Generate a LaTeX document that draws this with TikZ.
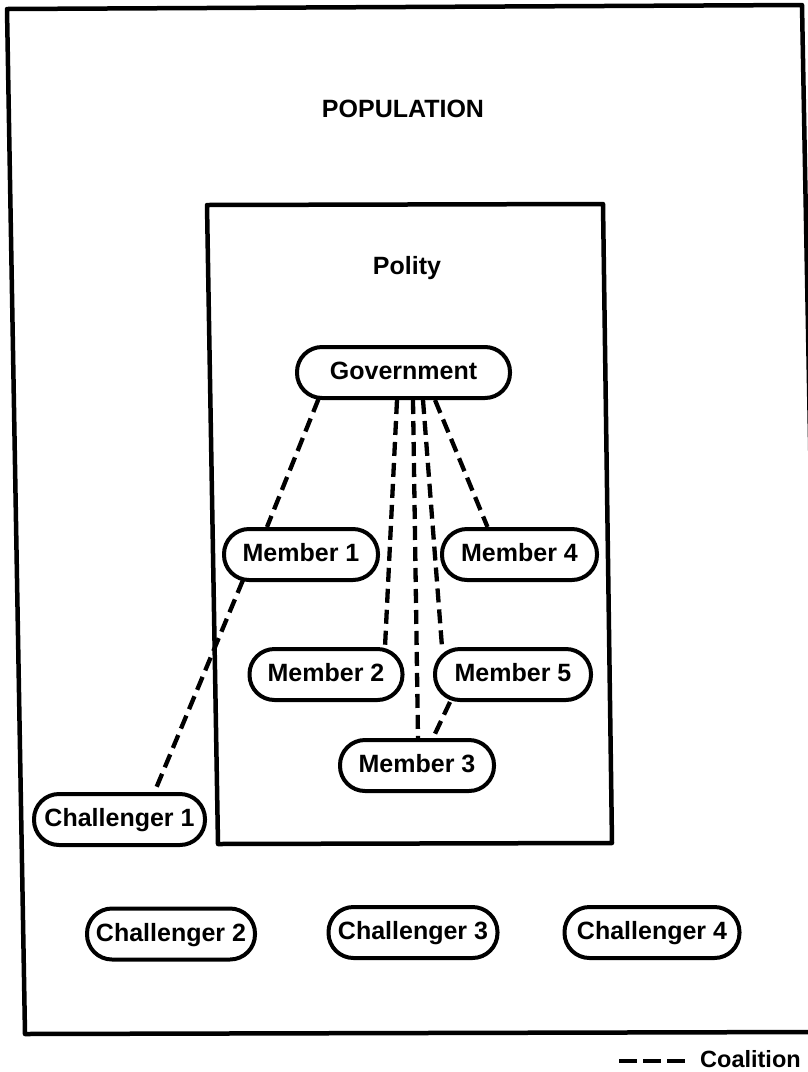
\documentclass[tikz,border=0pt]{standalone}
\usepackage{fontspec}
\setmainfont{Liberation Sans}
\usetikzlibrary{calc}
\begin{document}
\begin{tikzpicture}[x=1pt,y=-1pt,
  box/.style={draw, line width=4pt, rounded corners=25pt, minimum height=51pt,
    inner sep=0pt, text height=18pt, text depth=4pt,
    font=\fontsize{25}{28}\selectfont\bfseries, fill=white},
  lbl/.style={inner sep=0pt, font=\fontsize{25}{28}\selectfont\bfseries},
  coal/.style={line width=4.3pt, dash pattern=on 14pt off 7pt},
  frame/.style={line width=4.5pt, line join=round}]
\useasboundingbox (0,0) rectangle (807,1072);

% frames (slightly skewed like the scan)
\draw[frame] (7,9) -- (802,5) -- (821,1032) -- (25,1034) -- cycle;
\draw[frame] (207,205) -- (603,204) -- (612,843) -- (218,844) -- cycle;

% titles
\node[lbl, anchor=base] (pop) at (403,117) {POPULATION};
\node[lbl, anchor=base] (pol) at (407,274) {Polity};

% nodes
\node[box, minimum width=213pt] (gov) at (403.5,372.5) {Government};
\node[box, minimum width=154pt] (m1) at (301,554.5) {Member 1};
\node[box, minimum width=155pt] (m4) at (519.5,554.5) {Member 4};
\node[box, minimum width=153pt] (m2) at (326,674.5) {Member 2};
\node[box, minimum width=156pt] (m5) at (513,674.5) {Member 5};
\node[box, minimum width=154pt] (m3) at (417,765.5) {Member 3};
\node[box, minimum width=171pt] (c1) at (119.5,819.5) {Challenger 1};
\node[box, minimum width=168pt] (c2) at (171,934) {Challenger 2};
\node[box, minimum width=169pt] (c3) at (413,932.5) {Challenger 3};
\node[box, minimum width=175pt] (c4) at (652,932.5) {Challenger 4};

% coalition links
\draw[coal] ($(gov.south)+(-85,-1)$) -- ($(m1.north)+(-34,0)$);
\draw[coal] ($(m1.south)+(-58,-2)$) -- ($(c1.north)+(35,0)$);
\draw[coal] ($(gov.south)+(-6.5,0)$) -- ($(m2.north)+(59,0)$);
\draw[coal] ($(gov.south)+(9.5,0)$) -- ($(m3.north)+(1,0)$);
\draw[coal] ($(gov.south)+(19.5,0)$) -- ($(m5.north)+(-71,0)$);
\draw[coal] ($(gov.south)+(31.5,0)$) -- ($(m4.north)+(-32,0)$);
\draw[coal] ($(m5.south)+(-63,0)$) -- ($(m3.north)+(16,0)$);

% legend
\coordinate (l1) at (619,1061);
\coordinate (l2) at (686,1061);
\draw[line width=4.5pt, dash pattern=on 18pt off 6pt] (l1) -- (l2);
\node[inner sep=0pt, font=\fontsize{23.5}{26}\selectfont\bfseries, anchor=base west] (leg) at (700,1067) {Coalition};
\end{tikzpicture}
\end{document}
